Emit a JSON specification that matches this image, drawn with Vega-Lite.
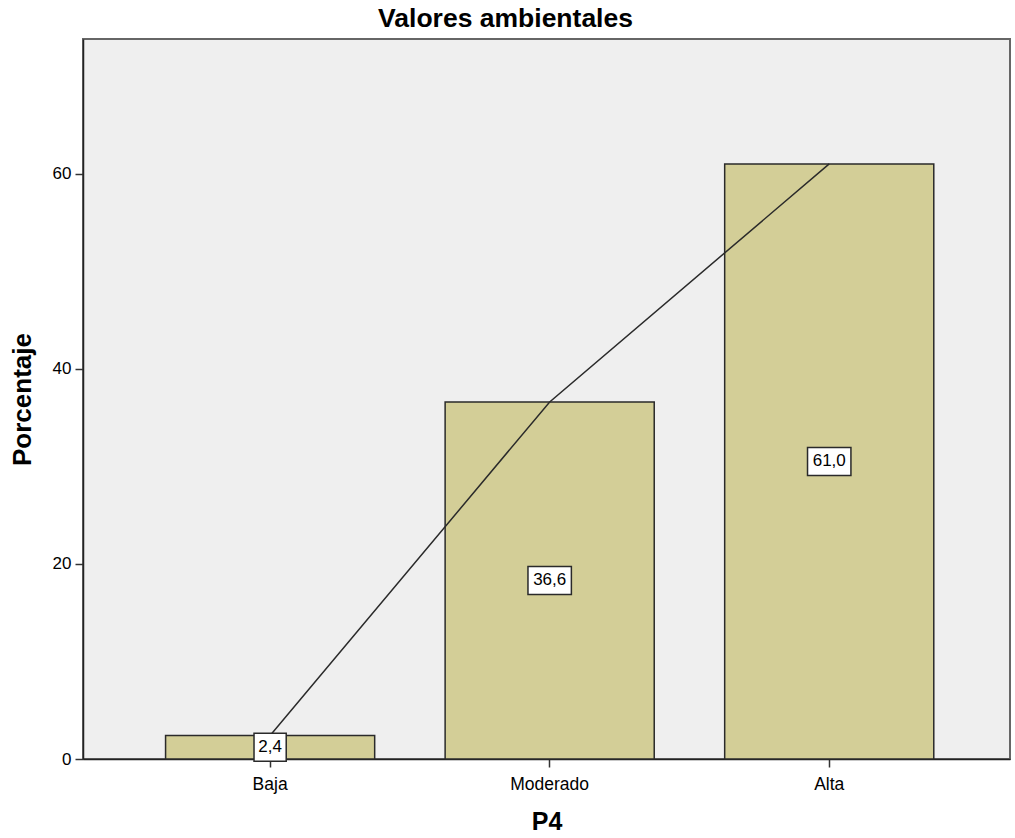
{
  "$schema": "https://vega.github.io/schema/vega-lite/v6.json",
  "width": 927,
  "height": 720,
  "autosize": "none",
  "padding": {"left": 83, "top": 39, "right": 5, "bottom": 79},
  "background": "white",
  "title": {
    "text": "Valores ambientales",
    "font": "Liberation Sans",
    "fontSize": 26.5,
    "fontWeight": "bold",
    "color": "#000000",
    "anchor": "middle",
    "frame": "bounds",
    "dx": -4,
    "offset": 7
  },
  "data": {
    "values": [
      {"P4": "Baja", "Porcentaje": 2.4},
      {"P4": "Moderado", "Porcentaje": 36.6},
      {"P4": "Alta", "Porcentaje": 61.0}
    ]
  },
  "encoding": {
    "x": {
      "field": "P4",
      "type": "nominal",
      "sort": ["Baja", "Moderado", "Alta"],
      "scale": {"paddingInner": 0.252, "paddingOuter": 0.284, "align": 0.52},
      "axis": {
        "title": "P4",
        "labelAngle": 0,
        "labelFont": "Liberation Sans",
        "labelFontSize": 17.5,
        "labelColor": "#000000",
        "labelPadding": 8,
        "tickSize": 8,
        "tickColor": "#333333",
        "tickWidth": 1.5,
        "domainColor": "#222222",
        "domainWidth": 1.5,
        "titleFont": "Liberation Sans",
        "titleFontSize": 25,
        "titleFontWeight": "bold",
        "titleColor": "#000000",
        "titlePadding": 17
      }
    }
  },
  "layer": [
    {
      "mark": {"type": "bar", "fill": "#d3ce97", "stroke": "#2a2a2a", "strokeWidth": 1.5},
      "encoding": {
        "y": {
          "field": "Porcentaje",
          "type": "quantitative",
          "scale": {"domain": [0, 73.8], "nice": false, "zero": true},
          "axis": {
            "title": "Porcentaje",
            "values": [0, 20, 40, 60],
            "grid": false,
            "labelFont": "Liberation Sans",
            "labelFontSize": 17,
            "labelColor": "#000000",
            "labelPadding": 4,
            "tickSize": 8,
            "tickColor": "#333333",
            "tickWidth": 1.5,
            "domainColor": "#222222",
            "domainWidth": 1.5,
            "titleFont": "Liberation Sans",
            "titleFontSize": 26,
            "titleFontWeight": "bold",
            "titleColor": "#000000",
            "titlePadding": 17
          }
        }
      }
    },
    {
      "mark": {"type": "line", "color": "#2a2a2a", "strokeWidth": 1.5},
      "encoding": {
        "y": {
          "field": "Porcentaje",
          "type": "quantitative",
          "scale": {"domain": [0, 73.8], "nice": false},
          "axis": null
        }
      }
    },
    {
      "mark": {"type": "point", "filled": true, "fill": "white", "stroke": "#2a2a2a", "strokeWidth": 1.5, "opacity": 1, "size": 784},
      "encoding": {
        "y": {
          "field": "Porcentaje",
          "type": "quantitative",
          "scale": {"domain": [0, 147.6], "nice": false},
          "axis": null
        },
        "shape": {
          "condition": {"test": "datum.P4 === 'Baja'", "value": "M-1.15,-1H1.15V1H-1.15Z"},
          "value": "M-1.55,-1H1.55V1H-1.55Z"
        }
      }
    },
    {
      "mark": {"type": "text", "font": "Liberation Sans", "fontSize": 17, "color": "#000000", "baseline": "middle", "align": "center"},
      "encoding": {
        "y": {
          "field": "Porcentaje",
          "type": "quantitative",
          "scale": {"domain": [0, 147.6], "nice": false},
          "axis": null
        },
        "text": {"field": "Porcentaje", "type": "quantitative", "format": ".1f"}
      }
    }
  ],
  "resolve": {"scale": {"y": "independent"}},
  "config": {
    "locale": {
      "number": {"decimal": ",", "thousands": ".", "grouping": [3], "currency": ["", " €"]}
    },
    "view": {"fill": "#efefef", "stroke": "#666666", "strokeWidth": 2}
  }
}
